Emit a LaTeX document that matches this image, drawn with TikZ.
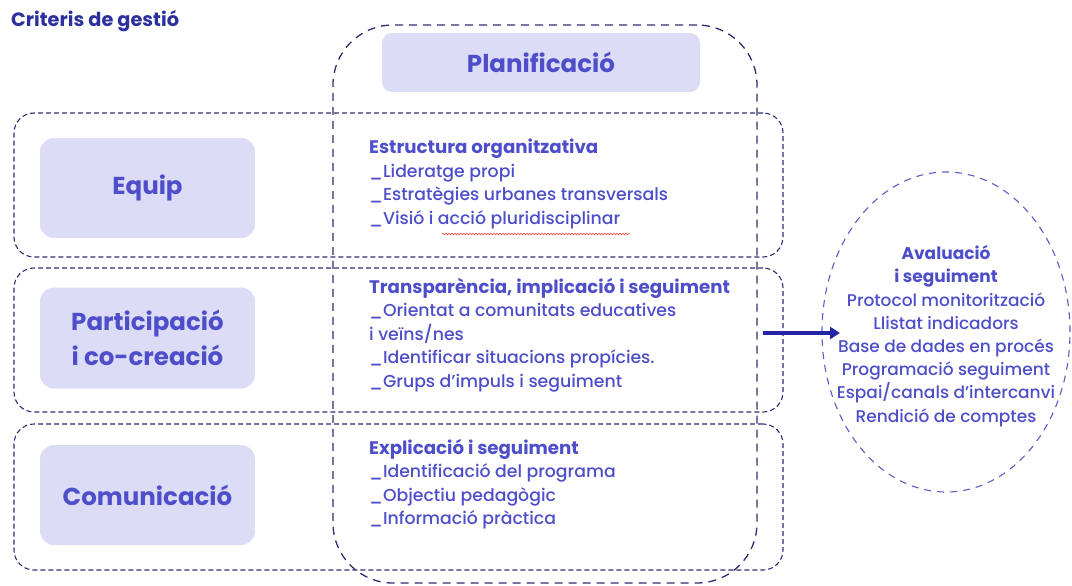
\documentclass[tikz,border=0pt]{standalone}
\usepackage{fontspec}
\setmainfont{Poppins}[UprightFont={* Medium}, BoldFont={* Bold}]
\usepackage{xcolor}
\usetikzlibrary{arrows.meta, positioning, shapes.geometric, decorations.pathmorphing}
\definecolor{critnavy}{HTML}{2E2E70}
\definecolor{critblue}{HTML}{4E4ECA}
\definecolor{crittitle}{HTML}{2B2FA0}
\definecolor{critlilac}{HTML}{DCDCF6}
\definecolor{critring}{HTML}{5C5CC8}
\definecolor{critarrow}{HTML}{2424A8}
\newcommand{\critHead}[1]{{\fontsize{18.2}{23.5}\selectfont\bfseries #1}}

\begin{document}
\begin{tikzpicture}[x=1pt, y=-1pt,
    rowbox/.style={draw=critnavy, line width=1.1pt, dash pattern=on 5pt off 3pt,
                   rounded corners=20pt, minimum width=769pt, inner sep=0pt},
    planbox/.style={draw=critnavy, line width=1.3pt, dash pattern=on 8pt off 6pt,
                    rounded corners=60pt, minimum width=424pt, minimum height=558pt,
                    inner sep=0pt},
    tag/.style={fill=critlilac, rounded corners=14pt, minimum width=215pt,
                minimum height=100pt, align=center, text=critblue,
                font=\fontsize{24.5}{31}\selectfont\bfseries},
    items/.style={anchor=north west, inner sep=0pt, align=left, text=critblue,
                  font=\fontsize{17.3}{23.5}\selectfont},
    ring/.style={ellipse, draw=critring, line width=1.1pt,
                 dash pattern=on 7pt off 6pt, minimum width=248pt,
                 minimum height=320pt, inner sep=0pt},
    arr/.style={-{Triangle[length=10pt, width=12pt]}, line width=4.5pt, critarrow},
    squiggle/.style={red!80, line width=0.5pt, decorate,
                     decoration={snake, amplitude=0.9pt, segment length=3pt}}
  ]
    \useasboundingbox (0,0) rectangle (1072,586);

    \node[anchor=west, inner sep=0pt, text=crittitle,
          font=\fontsize{19.3}{21}\selectfont\bfseries] (title) at (11,21)
      {Criteris de gestió};

    % rows and the planning column
    \node[rowbox, minimum height=144pt] (rowA) at (398.5,185) {};
    \node[rowbox, minimum height=144pt] (rowB) at (398.5,340) {};
    \node[rowbox, minimum height=146pt] (rowC) at (398.5,497) {};
    \node[planbox] (plan) at (545,304) {};

    \node[tag, minimum width=318pt, minimum height=59pt,
          rounded corners=10pt] (plantag) at (541,62.5) {Planificació};
    \node[tag] (equip) at (147.5,188) {Equip};
    \node[tag, minimum height=101pt] (partic) at (147.5,338)
      {Participació\\[4pt]i co-creació};
    \node[tag] (comun) at (147.5,495) {Comunicació};

    \node[items] (itemsA) at (369,139)
      {\critHead{Estructura organitzativa}\\
       \_Lideratge propi\\
       \_Estratègies urbanes transversals\\
       \_Visió i acció pluridisciplinar};
    \node[items] (itemsB) at (369,278)
      {\critHead{Transparència, implicació i seguiment}\\
       \_Orientat a comunitats educatives\\
       i veïns/nes\\
       \_Identificar situacions propícies.\\
       \_Grups d’impuls i seguiment};
    \node[items] (itemsC) at (369,439)
      {\critHead{Explicació i seguiment}\\
       \_Identificació del programa\\
       \_Objectiu pedagògic\\
       \_Informació pràctica};
    \draw[squiggle] (442,234) -- (630,234);

    % evaluation
    \node[ring] (aval) at (946,332) {};
    \node[align=center, inner sep=0pt, text=critblue,
          font=\fontsize{17}{23.2}\selectfont] (avaltext) at ([yshift=-4pt]aval.center)
      {\textbf{Avaluació}\\
       \textbf{i seguiment}\\
       Protocol monitorització\\
       Llistat indicadors\\
       Base de dades en procés\\
       Programació seguiment\\
       Espai/canals d’intercanvi\\
       Rendició de comptes};

    \coordinate (arrstart) at (763,333);
    \coordinate (arrend) at (840,333);
    \draw[arr] (arrstart) -- (arrend);
  \end{tikzpicture}
\end{document}
